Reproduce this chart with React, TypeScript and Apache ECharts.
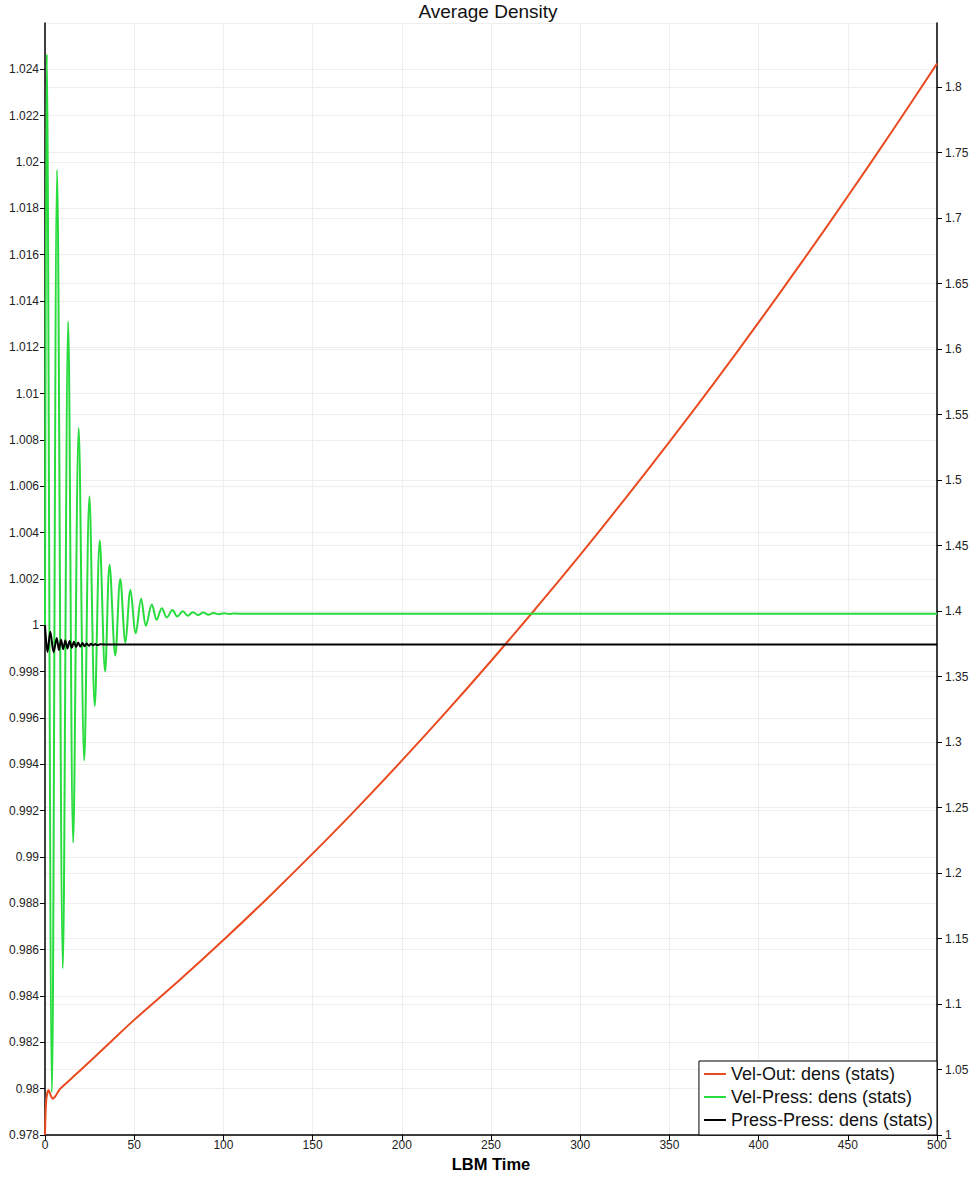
import React, { useEffect, useRef } from "react";
import * as echarts from "echarts";

// ---- Data ----
const seriesNames = ["Vel-Out: dens (stats)", "Vel-Press: dens (stats)", "Press-Press: dens (stats)"];

// Vel-Out (right axis)
const velOutT = [0, 0.7, 2, 3, 4.4, 6, 8, 10, 15, 20, 25, 37.5, 50, 75, 100, 125, 150, 175, 200, 225, 250, 275, 300, 325, 350, 375, 400, 425, 450, 475, 500];
const velOutV = [1.0, 1.0267, 1.0344, 1.031, 1.0277, 1.03, 1.0345, 1.0372, 1.0434, 1.0496, 1.056, 1.072, 1.0879, 1.1177, 1.1488, 1.1812, 1.2148, 1.2496, 1.2858, 1.3232, 1.3619, 1.4018, 1.443, 1.4855, 1.5292, 1.5741, 1.6204, 1.6679, 1.7167, 1.7667, 1.818];

// Vel-Press (left axis)
const velPressT = [0, 1.0, 3.9, 6.8, 10.0, 13.0, 15.8, 18.9, 22.0, 24.9, 27.9, 30.7, 33.7, 36.2, 39.4, 42.2, 45.1, 47.9, 50.9, 53.9, 56.6, 59.9, 62.6, 65.5, 68.3, 71.5, 74.1, 77.3, 80.0, 82.9, 85.8, 88.7, 91.6, 94.5, 97.4, 100.3, 103.2, 106, 112, 500];
const velPressV = [1.0, 1.02465, 0.97984, 1.01966, 0.98519, 1.01312, 0.99062, 1.00852, 0.99417, 1.00557, 0.99652, 1.00366, 0.99801, 1.00262, 0.9987, 1.002, 0.99925, 1.00152, 0.99966, 1.00115, 0.99998, 1.0009, 1.00024, 1.00074, 1.00034, 1.00066, 1.00038, 1.00061, 1.00041, 1.00057, 1.00044, 1.00055, 1.00046, 1.00053, 1.00048, 1.00052, 1.00049, 1.00051, 1.0005, 1.0005];

// Press-Press (left axis)
const pressPressT = [0, 1.4, 3.0, 4.8, 6.6, 7.8, 9.0, 10.2, 11.4, 12.6, 13.8, 15.0, 16.2, 17.4, 18.6, 19.8, 21.0, 22.2, 23.4, 24.6, 25.8, 27.0, 28.2, 29.4, 31, 35, 500];
const pressPressV = [1.0, 0.99885, 0.99972, 0.99884, 0.99945, 0.99893, 0.99938, 0.99897, 0.99935, 0.999, 0.99932, 0.99903, 0.99929, 0.99906, 0.99926, 0.99908, 0.99924, 0.9991, 0.99922, 0.99912, 0.9992, 0.99914, 0.99919, 0.99915, 0.99918, 0.99917, 0.99917];

const seriesColors = ["#e94a1f", "#27dc3c", "#000000"];

const FONT = "'Liberation Sans', Arial, sans-serif";

function pairs(t: number[], v: number[]) {
  return t.map((x, i) => [x, v[i]]);
}

export default function App() {
  const ref = useRef<HTMLDivElement>(null);
  useEffect(() => {
    if (!ref.current) return;
    const chart = echarts.init(ref.current, null, { renderer: "svg" });
    const gridLine = { show: true, lineStyle: { color: "#eeeeee", width: 1 } };
    const axisLabel = { fontSize: 12, color: "#222", fontFamily: FONT };
    chart.setOption({
      animation: false,
      backgroundColor: "#ffffff",
      textStyle: { fontFamily: FONT },
      title: {
        text: "Average Density",
        left: "center",
        top: 2,
        padding: 0,
        textStyle: { fontSize: 19, fontWeight: "normal", color: "#111", fontFamily: FONT },
      },
      grid: { left: 45, right: 39, top: 23, bottom: 45, containLabel: false, outerBoundsMode: "none" },
      legend: {
        orient: "vertical",
        right: 39,
        bottom: 45,
        data: seriesNames,
        icon: "rect",
        itemWidth: 22,
        itemHeight: 2,
        itemGap: 3,
        padding: [3, 4, 5, 5],
        backgroundColor: "#ffffff",
        borderColor: "#000000",
        borderWidth: 1,
        borderRadius: 0,
        selectedMode: false,
        textStyle: { fontSize: 18, color: "#111", lineHeight: 20, fontFamily: FONT },
      },
      xAxis: {
        type: "value",
        min: 0,
        max: 500,
        interval: 50,
        name: "LBM Time",
        nameLocation: "middle",
        nameGap: 19,
        nameTextStyle: { fontSize: 16.5, fontWeight: "bold", color: "#000", fontFamily: FONT },
        axisLine: { show: true, lineStyle: { color: "#000", width: 1.5 } },
        axisTick: { show: true, length: 5, lineStyle: { color: "#000" } },
        axisLabel: { ...axisLabel, margin: 4 },
        splitLine: gridLine,
      },
      yAxis: [
        {
          type: "value",
          position: "left",
          min: 0.978,
          max: 1.026,
          interval: 0.002,
          axisLine: { show: true, lineStyle: { color: "#000", width: 1.5 } },
          axisTick: { show: true, length: 5, lineStyle: { color: "#000" } },
          axisLabel: { ...axisLabel, margin: 6, showMaxLabel: false },
          splitLine: gridLine,
        },
        {
          type: "value",
          position: "right",
          min: 1,
          max: 1.849,
          interval: 0.05,
          axisLine: { show: true, lineStyle: { color: "#000", width: 1.5 } },
          axisTick: { show: true, length: 5, lineStyle: { color: "#000" } },
          axisLabel: { ...axisLabel, margin: 8, showMaxLabel: false },
          splitLine: gridLine,
        },
      ],
      series: [
        {
          name: seriesNames[0],
          type: "line",
          yAxisIndex: 1,
          data: pairs(velOutT, velOutV),
          showSymbol: false,
          smooth: 0.3,
          color: seriesColors[0],
          itemStyle: { color: seriesColors[0] },
          lineStyle: { color: seriesColors[0], width: 2 },
        },
        {
          name: seriesNames[1],
          type: "line",
          yAxisIndex: 0,
          data: pairs(velPressT, velPressV),
          showSymbol: false,
          smooth: 0.35,
          color: seriesColors[1],
          itemStyle: { color: seriesColors[1] },
          lineStyle: { color: seriesColors[1], width: 2 },
        },
        {
          name: seriesNames[2],
          type: "line",
          yAxisIndex: 0,
          data: pairs(pressPressT, pressPressV),
          showSymbol: false,
          smooth: 0.3,
          color: seriesColors[2],
          itemStyle: { color: seriesColors[2] },
          lineStyle: { color: seriesColors[2], width: 2 },
        },
      ],
    });
    return () => chart.dispose();
  }, []);
  return (
    <div
      ref={ref}
      style={{ position: "absolute", left: 0, top: 0, width: 976, height: 1180 }}
    />
  );
}
